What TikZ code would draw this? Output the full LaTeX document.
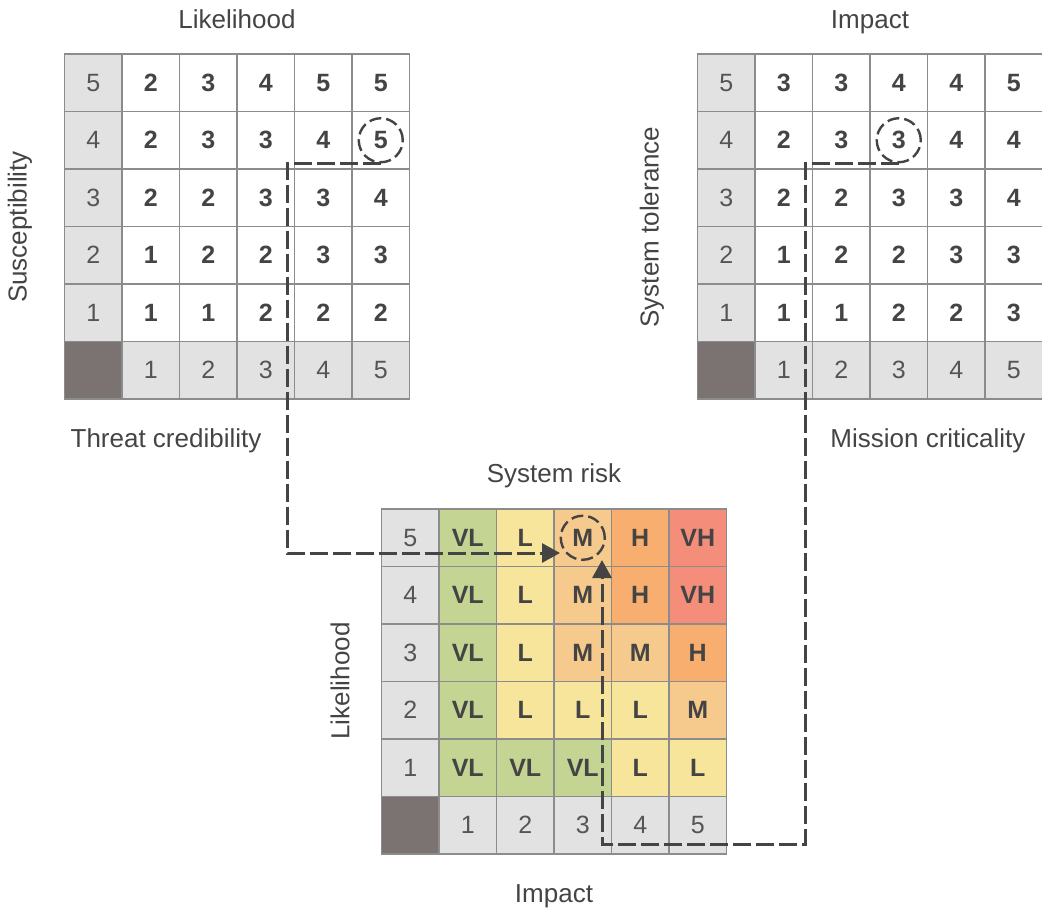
\documentclass[tikz,border=0pt]{standalone}
\usepackage{fontspec}
\setmainfont{Liberation Sans}
\usetikzlibrary{arrows.meta}
\definecolor{gridc}{HTML}{8C8C8C}
\definecolor{hdr}{HTML}{E2E2E2}
\definecolor{corner}{HTML}{7A7372}
\definecolor{txt}{HTML}{444444}
\definecolor{htxt}{HTML}{555555}
\definecolor{rVL}{HTML}{C3D493}
\definecolor{rL}{HTML}{F7E59B}
\definecolor{rM}{HTML}{F6CA8C}
\definecolor{rH}{HTML}{F8AE6E}
\definecolor{rVH}{HTML}{F48E7B}
\tikzset{
  cellbox/.style={draw=gridc, line width=1.4pt, minimum size=57.5pt, inner sep=0pt, text=txt,
    font=\fontsize{25}{29}\selectfont\bfseries},
  hdrbox/.style={cellbox, fill=hdr, text=htxt, font=\fontsize{25}{29}\selectfont},
  cornerbox/.style={cellbox, fill=corner},
  lbl/.style={text=txt, font=\fontsize{26}{30}\selectfont, inner sep=0pt},
  ring/.style={circle, draw=txt, line width=2.4pt, dash pattern=on 12pt off 5pt, minimum size=44pt, inner sep=0pt},
  dline/.style={draw=txt, line width=3pt, dash pattern=on 18pt off 5pt},
  tip/.style={-{Triangle[length=18pt,width=19pt]}}
}
\begin{document}
\begin{tikzpicture}[x=1pt,y=-1pt]
\useasboundingbox (0,0) rectangle (1042,908);
% Left grid
\foreach \r/\vals in {5/{2,3,4,5,5},4/{2,3,3,4,5},3/{2,2,3,3,4},2/{1,2,2,3,3},1/{1,1,2,2,2}}{
  \node[hdrbox] (A-\r-0) at ({64.5+0.5*57.5},{54+(5-\r+0.5)*57.5}) {\r};
  \foreach \v [count=\c] in \vals {
    \node[cellbox, fill=white] (A-\r-\c) at ({64.5+(\c+0.5)*57.5},{54+(5-\r+0.5)*57.5}) {\v};
  }
}
\node[cornerbox] (A-0-0) at ({64.5+0.5*57.5},{54+5.5*57.5}) {};
\foreach \c in {1,...,5}{
  \node[hdrbox] (A-0-\c) at ({64.5+(\c+0.5)*57.5},{54+5.5*57.5}) {\c};
}
% Right grid
\foreach \r/\vals in {5/{3,3,4,4,5},4/{2,3,3,4,4},3/{2,2,3,3,4},2/{1,2,2,3,3},1/{1,1,2,2,3}}{
  \node[hdrbox] (B-\r-0) at ({697.5+0.5*57.5},{54+(5-\r+0.5)*57.5}) {\r};
  \foreach \v [count=\c] in \vals {
    \node[cellbox, fill=white] (B-\r-\c) at ({697.5+(\c+0.5)*57.5},{54+(5-\r+0.5)*57.5}) {\v};
  }
}
\node[cornerbox] (B-0-0) at ({697.5+0.5*57.5},{54+5.5*57.5}) {};
\foreach \c in {1,...,5}{
  \node[hdrbox] (B-0-\c) at ({697.5+(\c+0.5)*57.5},{54+5.5*57.5}) {\c};
}
% Risk grid
\foreach \r/\vals in {5/{VL,L,M,H,VH},4/{VL,L,M,H,VH},3/{VL,L,M,M,H},2/{VL,L,L,L,M},1/{VL,VL,VL,L,L}}{
  \node[hdrbox] (C-\r-0) at ({381.5+0.5*57.5},{509+(5-\r+0.5)*57.5}) {\r};
  \foreach \v [count=\c] in \vals {
    \node[cellbox, fill=r\v] (C-\r-\c) at ({381.5+(\c+0.5)*57.5},{509+(5-\r+0.5)*57.5}) {\v};
  }
}
\node[cornerbox] (C-0-0) at ({381.5+0.5*57.5},{509+5.5*57.5}) {};
\foreach \c in {1,...,5}{
  \node[hdrbox] (C-0-\c) at ({381.5+(\c+0.5)*57.5},{509+5.5*57.5}) {\c};
}
% labels
\node[lbl, anchor=base] (t1) at (237,28) {Likelihood};
\node[lbl, anchor=base] (t2) at (870,28) {Impact};
\node[lbl, rotate=90] (t3) at (20,227) {Susceptibility};
\node[lbl, rotate=90] (t4) at (652,227) {System tolerance};
\node[lbl, anchor=base] (t5) at (166,447) {Threat credibility};
\node[lbl, anchor=base] (t6) at (928,447) {Mission criticality};
\node[lbl, anchor=base] (t7) at (554,482) {System risk};
\node[lbl, rotate=90] (t8) at (340,681) {Likelihood};
\node[lbl, anchor=base] (t9) at (554,902) {Impact};
% rings
\node[ring] (r1) at (A-4-5) {};
\node[ring] (r2) at (B-4-3) {};
\node[ring] (r3) at (C-5-3) {};
% connectors
\coordinate (p1) at (287,553);
\coordinate (tip1) at (560,553);
\coordinate (q1) at (805,844);
\coordinate (q2) at (602,844);
\coordinate (tip2) at (602,560);
\draw[dline, tip] (r1.south) -| (p1) -- (tip1);
\draw[dline, tip] (r2.south) -| (q1) -- (q2) -- (tip2);
\end{tikzpicture}
\end{document}
